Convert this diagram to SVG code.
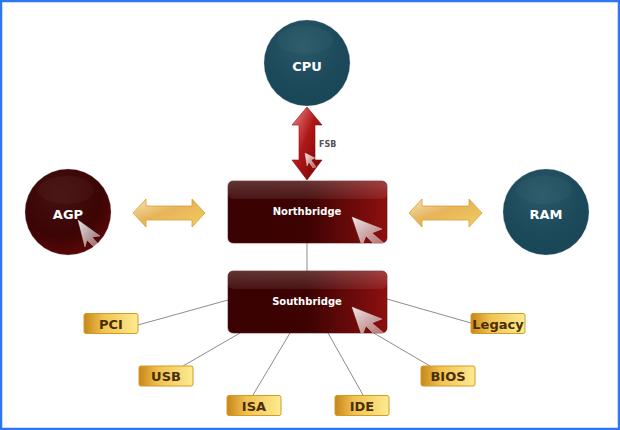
<svg xmlns="http://www.w3.org/2000/svg" width="620" height="430" viewBox="0 0 620 430">
<defs>
<radialGradient id="gTeal" cx="0.45" cy="0.3" r="0.75">
<stop offset="0" stop-color="#2a5868"/>
<stop offset="0.6" stop-color="#1c4a5a"/>
<stop offset="1" stop-color="#1a4656"/>
</radialGradient>
<radialGradient id="gRedC" cx="0.4" cy="0.3" r="0.8">
<stop offset="0" stop-color="#451010"/>
<stop offset="0.6" stop-color="#3c0404"/>
<stop offset="1" stop-color="#660808"/>
</radialGradient>
<linearGradient id="gBox" x1="0" y1="0" x2="1" y2="0">
<stop offset="0" stop-color="#3a0202"/>
<stop offset="0.5" stop-color="#3d0202"/>
<stop offset="1" stop-color="#8e1010"/>
</linearGradient>
<linearGradient id="gGloss" x1="0" y1="0" x2="0" y2="1">
<stop offset="0" stop-color="#ffffff" stop-opacity="0.2"/>
<stop offset="1" stop-color="#ffffff" stop-opacity="0.07"/>
</linearGradient>
<linearGradient id="gGold" x1="0" y1="0" x2="1" y2="0">
<stop offset="0" stop-color="#c8861a"/>
<stop offset="0.35" stop-color="#f0c250"/>
<stop offset="1" stop-color="#fdeb90"/>
</linearGradient>
<linearGradient id="gArrowGold" x1="0" y1="0" x2="1" y2="1">
<stop offset="0" stop-color="#f7e2b8"/>
<stop offset="0.45" stop-color="#e6b45a"/>
<stop offset="1" stop-color="#f2cf60"/>
</linearGradient>
<linearGradient id="gArrowRed" x1="0" y1="0" x2="1" y2="1">
<stop offset="0" stop-color="#f08a8a"/>
<stop offset="0.45" stop-color="#b01818"/>
<stop offset="1" stop-color="#700000"/>
</linearGradient>
<linearGradient id="gCursor" x1="0" y1="0" x2="1" y2="1">
<stop offset="0" stop-color="#ffffff" stop-opacity="0.9"/>
<stop offset="1" stop-color="#ffffff" stop-opacity="0.35"/>
</linearGradient>
<clipPath id="cNB"><rect x="228" y="181" width="159" height="62" rx="5"/></clipPath>
<clipPath id="cSB"><rect x="228" y="271" width="159" height="62" rx="5"/></clipPath>
</defs>
<style>
.lbl{font-family:"DejaVu Sans",Verdana,sans-serif;font-weight:bold;fill:#ffffff;text-anchor:middle}
.glbl{font-family:"DejaVu Sans",Verdana,sans-serif;font-weight:bold;fill:#4a2e08;font-size:13px;text-anchor:middle}
.gbox{fill:url(#gGold);stroke:#d49a22;stroke-width:1}
.conn{stroke:#8c8c8c;stroke-width:1;fill:none}
.cursor{fill:url(#gCursor);stroke:#ffffff;stroke-opacity:0.5;stroke-width:0.6}
.hl{fill:#ffffff;opacity:0.03}
</style>
<rect x="1" y="1" width="618" height="428" fill="#ffffff" stroke="#2f76f2" stroke-width="2.5"/>

<g id="connectors">
<line class="conn" x1="307" y1="243" x2="307" y2="271"/>
<line class="conn" x1="138" y1="325" x2="228" y2="300"/>
<line class="conn" x1="183" y1="366" x2="240" y2="333"/>
<line class="conn" x1="253" y1="395" x2="290" y2="333"/>
<line class="conn" x1="363" y1="395" x2="328" y2="333"/>
<line class="conn" x1="430" y1="366" x2="372" y2="332"/>
<line class="conn" x1="471" y1="323" x2="387" y2="299"/>
<g id="fsb-arrow">
<polygon points="307,107 322,125 315,125 315,160 322,160 307,180 292,160 299,160 299,125 292,125" fill="url(#gArrowRed)" stroke="#8a0a0a" stroke-width="0.6"/>
<polygon class="cursor" points="305,153 315,158 311,160 316,167 313,168 309,162 307,166"/>
<text x="319" y="147" font-family="DejaVu Sans,Verdana,sans-serif" font-size="8" font-weight="bold" fill="#555555">FSB</text>
</g>
<polygon id="agp-arrow" points="133,213 146,199 146,206 192,206 192,199 205,213 192,227 192,220 146,220 146,227" fill="url(#gArrowGold)" stroke="#d9a030" stroke-width="0.8"/>
<polygon id="ram-arrow" points="409,213 422,199 422,206 469,206 469,199 482,213 469,227 469,220 422,220 422,227" fill="url(#gArrowGold)" stroke="#d9a030" stroke-width="0.8"/>
</g>

<g id="cpu">
<circle cx="307" cy="63" r="43" fill="url(#gTeal)" stroke="#9ab" stroke-opacity="0.4" stroke-width="0.6"/>
<ellipse class="hl" cx="305" cy="40" rx="28" ry="14"/>
<text class="lbl" x="307" y="71" font-size="13">CPU</text>
</g>

<g id="agp">
<circle cx="68" cy="212" r="43" fill="url(#gRedC)" stroke="#999" stroke-opacity="0.4" stroke-width="0.6"/>
<ellipse class="hl" cx="66" cy="190" rx="28" ry="14"/>
<text class="lbl" x="68" y="219" font-size="13">AGP</text>
<polygon class="cursor" points="78,220 100,236 92,237 100,246 95,248 87,240 85,247"/>
</g>

<g id="ram">
<circle cx="546" cy="212" r="43" fill="url(#gTeal)" stroke="#9ab" stroke-opacity="0.4" stroke-width="0.6"/>
<ellipse class="hl" cx="544" cy="190" rx="28" ry="14"/>
<text class="lbl" x="546" y="219" font-size="13">RAM</text>
</g>

<g id="northbridge">
<rect x="228" y="181" width="159" height="62" rx="5" fill="url(#gBox)" stroke="#5a0a0a" stroke-width="0.6"/>
<rect x="228" y="181" width="159" height="18" rx="5" fill="url(#gGloss)"/>
<g clip-path="url(#cNB)">
<polygon class="cursor" points="352,217 382,229 372,233 385,244 378,248 366,236 362,246"/>
</g>
<text class="lbl" x="307" y="215" font-size="10">Northbridge</text>
</g>

<g id="southbridge">
<rect x="228" y="271" width="159" height="62" rx="5" fill="url(#gBox)" stroke="#5a0a0a" stroke-width="0.6"/>
<rect x="228" y="271" width="159" height="18" rx="5" fill="url(#gGloss)"/>
<g clip-path="url(#cSB)">
<polygon class="cursor" points="352,307 382,319 372,323 385,334 378,338 366,326 362,336"/>
</g>
<text class="lbl" x="307" y="305" font-size="10">Southbridge</text>
</g>

<g id="pci"><rect class="gbox" x="84" y="313.5" width="54" height="20" rx="2"/><text class="glbl" x="111" y="328.5">PCI</text></g>
<g id="usb"><rect class="gbox" x="139" y="366" width="54" height="20" rx="2"/><text class="glbl" x="166" y="381">USB</text></g>
<g id="isa"><rect class="gbox" x="227" y="395.5" width="54" height="20" rx="2"/><text class="glbl" x="254" y="410.5">ISA</text></g>
<g id="ide"><rect class="gbox" x="335" y="395.5" width="54" height="20" rx="2"/><text class="glbl" x="362" y="410.5">IDE</text></g>
<g id="bios"><rect class="gbox" x="421" y="366" width="54" height="20" rx="2"/><text class="glbl" x="448" y="381">BIOS</text></g>
<g id="legacy"><rect class="gbox" x="471" y="313.5" width="54" height="20" rx="2"/><text class="glbl" x="498" y="328.5">Legacy</text></g>
</svg>
